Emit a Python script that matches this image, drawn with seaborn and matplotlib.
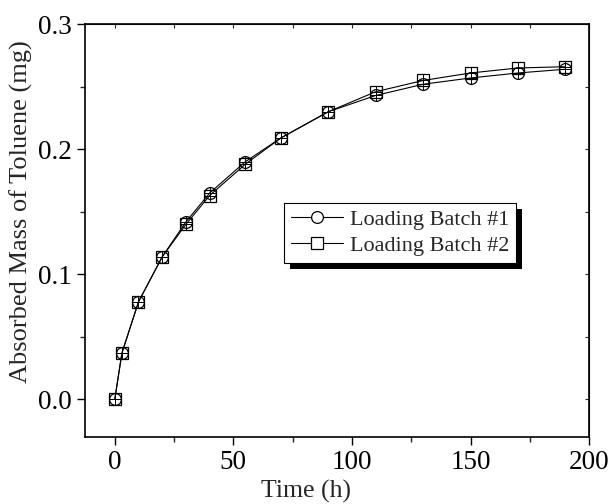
import numpy as np
import pandas as pd
import matplotlib
matplotlib.use("Agg")
import matplotlib.pyplot as plt
import seaborn as sns
from matplotlib.patches import Rectangle
from matplotlib.ticker import MultipleLocator, FormatStrFormatter
from matplotlib.lines import Line2D

time_h = [0, 3, 10, 20, 30, 40, 55, 70, 90, 110, 130, 150, 170, 190]
batch1 = [0.000, 0.037, 0.078, 0.114, 0.142, 0.165, 0.190, 0.209, 0.230, 0.243, 0.252, 0.257, 0.261, 0.264]
batch2 = [0.000, 0.037, 0.078, 0.114, 0.140, 0.163, 0.188, 0.209, 0.230, 0.246, 0.255, 0.261, 0.265, 0.266]
series_names = ["Loading Batch #1", "Loading Batch #2"]
x_label = "Time (h)"
y_label = "Absorbed Mass of Toluene (mg)"

df = pd.DataFrame({
    "Time": time_h * 2,
    "Mass": batch1 + batch2,
    "Series": [series_names[0]] * len(time_h) + [series_names[1]] * len(time_h),
})

sns.set_style("ticks")
plt.rcParams["font.family"] = ["Liberation Serif", "DejaVu Serif"]

fig = plt.figure(figsize=(6.08, 5.04), dpi=100)
ax = fig.add_axes([0.140, 0.133, 0.829, 0.819])

sns.lineplot(data=df, x="Time", y="Mass", style="Series",
             markers={series_names[0]: "o", series_names[1]: "s"},
             dashes=False, color="black", linewidth=0.8, markersize=8.5, markerfacecolor="none",
             markeredgecolor="black", markeredgewidth=0.9, ax=ax, legend=False, zorder=3)
for yv in (batch1, batch2):
    ax.plot(time_h, yv, linestyle="none", marker="+", markersize=8.5, color="black",
            markeredgewidth=0.7, zorder=3)

handles = [Line2D([], [], color="black", lw=0.8, marker=m, markersize=8.5, markerfacecolor="white",
                  markeredgecolor="black", markeredgewidth=0.9) for m in ("o", "s")]
leg = ax.legend(handles, series_names, loc="upper left", bbox_to_anchor=(0.395, 0.567),
                fontsize=16, frameon=True, fancybox=False, edgecolor="black", framealpha=1,
                handlelength=2.35, handletextpad=0.3, borderpad=0.3, labelspacing=0.25,
                borderaxespad=0)
leg.get_frame().set_linewidth(0.8)
leg.set_zorder(6)

ax.set_xlim(-12.5, 200)
ax.set_ylim(-0.03, 0.3)
ax.xaxis.set_major_locator(MultipleLocator(50))
ax.xaxis.set_minor_locator(MultipleLocator(25))
ax.yaxis.set_major_locator(MultipleLocator(0.1))
ax.yaxis.set_minor_locator(MultipleLocator(0.05))
ax.yaxis.set_major_formatter(FormatStrFormatter("%.1f"))
ax.tick_params(axis="both", which="major", direction="out", length=6, width=1.0, labelsize=19.5,
               colors="black", pad=3.5)
ax.tick_params(axis="both", which="minor", direction="out", length=3.5, width=1.0)
ax.tick_params(top=False, right=False, which="both")
ax.set_xlabel(x_label, fontsize=18.5)
ax.set_ylabel(y_label, fontsize=19)
ax.xaxis.set_label_coords(0.438, -0.104)
ax.yaxis.set_label_coords(-0.103, 0.547)
for s in ax.spines.values():
    s.set_linewidth(1.2)
    s.set_color("black")

secx = ax.secondary_xaxis("top")
secx.tick_params(direction="in", length=3, width=0.8, labeltop=False)
secx.set_xticks([0, 25, 50, 75, 100, 125, 150, 175, 200])
secx.set_xticklabels([])
secy = ax.secondary_yaxis("right")
secy.tick_params(direction="in", length=3, width=0.8, labelright=False)
secy.set_yticks([0.0, 0.05, 0.1, 0.15, 0.2, 0.25, 0.3])
secy.set_yticklabels([])

fig.canvas.draw()
bb = leg.get_window_extent()
inv = fig.transFigure.inverted()
x0, y0 = inv.transform((bb.x0 + 6, bb.y0 - 6))
x1, y1 = inv.transform((bb.x1 + 6, bb.y1 - 6))
shadow = Rectangle((x0, y0), x1 - x0, y1 - y0, facecolor="black", edgecolor="none", zorder=5)
ax.add_artist(shadow)
shadow.set_transform(fig.transFigure)

fig.savefig("out.png", dpi=100)
